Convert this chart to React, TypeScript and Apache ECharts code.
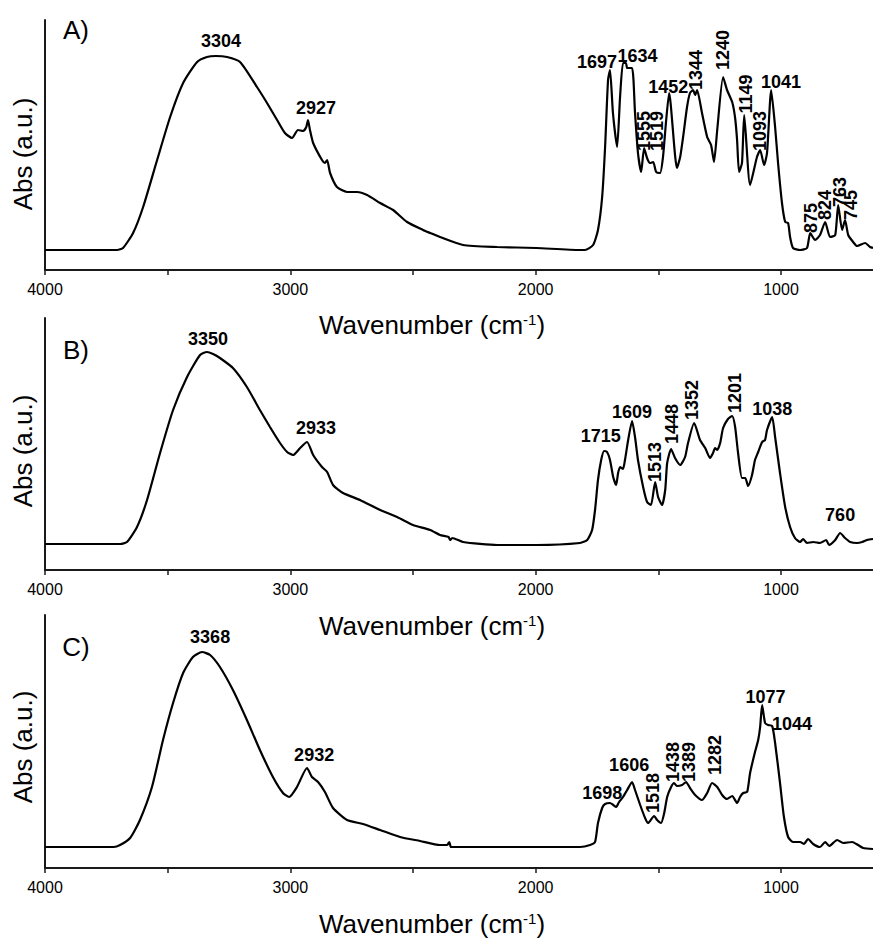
import React, { useEffect, useRef } from "react";
import * as echarts from "echarts";

// Wavenumber axis (cm-1), drawn high -> low
const X_MIN = 625;
const X_MAX = 4000;
const MAJOR_TICKS = [4000, 3000, 2000, 1000];
const ALL_TICKS = [4000, 3500, 3000, 2500, 2000, 1500, 1000];

// Spectrum A: [wavenumber, absorbance (a.u.)]
const specA: number[][] = [
  [4000, 20], [3850, 20], [3720, 20], [3706, 20], [3682, 22], [3641, 37], [3600, 63], [3543, 110],
  [3490, 153], [3437, 187], [3380, 208], [3340, 213], [3304, 214], [3258, 213], [3205, 208],
  [3136, 183], [3095, 167], [3054, 150], [3022, 137], [2993, 132], [2969, 140], [2948, 139],
  [2935, 143], [2928, 150], [2920, 140], [2907, 127], [2871, 110], [2859, 107], [2850, 110],
  [2838, 97], [2810, 83], [2769, 78], [2728, 78], [2687, 75], [2634, 67], [2581, 60], [2524, 48],
  [2459, 40], [2430, 37], [2390, 33], [2296, 25], [2157, 23], [1998, 22], [1819, 20], [1799, 20],
  [1766, 25], [1746, 40], [1729, 73], [1717, 123], [1705, 190], [1697, 200], [1685, 157],
  [1668, 123], [1656, 173], [1644, 207], [1632, 207], [1627, 202], [1607, 202], [1595, 157],
  [1583, 117], [1570, 98], [1558, 122], [1546, 112], [1534, 107], [1521, 108], [1509, 98],
  [1493, 97], [1481, 113], [1468, 150], [1456, 177], [1424, 102], [1411, 113], [1399, 133],
  [1383, 163], [1371, 177], [1358, 180], [1350, 175], [1342, 180], [1322, 157], [1301, 133],
  [1285, 125], [1273, 108], [1260, 140], [1236, 193], [1220, 180], [1199, 168], [1187, 152],
  [1179, 130], [1171, 98], [1159, 107], [1150, 155], [1126, 85], [1098, 113], [1085, 120],
  [1069, 105], [1057, 117], [1040, 180], [1024, 143], [1012, 107], [996, 67], [983, 48],
  [971, 47], [963, 33], [951, 22], [922, 20], [894, 22], [881, 37], [861, 30], [841, 35],
  [820, 48], [800, 33], [779, 35], [767, 65], [751, 40], [739, 50], [726, 35], [706, 28],
  [690, 24], [657, 27], [637, 23], [625, 22],
];

// Spectrum B
const specB: number[][] = [
  [4000, 26], [3720, 26], [3694, 26], [3666, 28], [3625, 43], [3584, 70], [3531, 117], [3478, 160],
  [3421, 193], [3368, 215], [3340, 218], [3315, 216], [3287, 212], [3234, 202], [3177, 183],
  [3124, 160], [3083, 143], [3042, 127], [3013, 118], [2989, 115], [2960, 122], [2932, 128],
  [2907, 115], [2871, 103], [2850, 98], [2826, 85], [2785, 77], [2716, 70], [2634, 60],
  [2565, 53], [2500, 45], [2430, 40], [2390, 35], [2355, 33], [2349, 30], [2340, 32], [2296, 28],
  [2157, 25], [1994, 25], [1819, 27], [1790, 30], [1770, 40], [1758, 60], [1746, 90],
  [1733, 110], [1721, 119], [1709, 118], [1697, 110], [1684, 93], [1672, 85], [1664, 97],
  [1656, 103], [1644, 101], [1636, 110], [1623, 130], [1607, 149], [1595, 133], [1583, 110],
  [1562, 83], [1546, 68], [1530, 65], [1513, 88], [1501, 73], [1485, 65], [1472, 80],
  [1464, 107], [1448, 121], [1432, 112], [1411, 105], [1391, 113], [1379, 127], [1354, 147],
  [1330, 130], [1309, 122], [1289, 112], [1277, 117], [1269, 122], [1260, 120], [1248, 127],
  [1236, 142], [1216, 151], [1199, 154], [1187, 143], [1175, 117], [1159, 92], [1146, 92],
  [1134, 84], [1118, 95], [1106, 110], [1093, 118], [1077, 128], [1065, 130], [1057, 140],
  [1036, 153], [1024, 133], [1004, 97], [983, 63], [963, 43], [943, 32], [922, 28], [910, 31],
  [894, 27], [869, 28], [841, 27], [816, 30], [804, 25], [779, 30], [759, 37], [739, 32],
  [718, 28], [690, 27], [669, 28], [649, 30], [625, 31],
];

// Spectrum C
const specC: number[][] = [
  [4000, 21], [3720, 21], [3694, 23], [3653, 30], [3613, 48], [3564, 81], [3519, 128], [3478, 165],
  [3437, 195], [3397, 211], [3360, 216], [3327, 213], [3287, 201], [3234, 178], [3177, 148],
  [3124, 118], [3071, 91], [3030, 75], [3005, 71], [2973, 81], [2932, 100], [2912, 91],
  [2887, 86], [2859, 76], [2826, 60], [2769, 48], [2704, 44], [2634, 38], [2553, 31],
  [2471, 27], [2390, 23], [2361, 23], [2352, 26], [2345, 21], [2296, 21], [2157, 21],
  [1998, 21], [1819, 21], [1778, 23], [1758, 26], [1746, 45], [1729, 60], [1717, 64],
  [1697, 65], [1684, 63], [1672, 61], [1660, 66], [1644, 71], [1627, 78], [1607, 86],
  [1595, 78], [1574, 63], [1554, 50], [1542, 45], [1517, 52], [1505, 48], [1489, 45],
  [1476, 55], [1464, 71], [1448, 81], [1436, 85], [1424, 82], [1403, 83], [1387, 86],
  [1371, 80], [1350, 73], [1322, 68], [1301, 75], [1281, 85], [1260, 81], [1240, 73],
  [1220, 69], [1199, 72], [1179, 65], [1167, 71], [1154, 75], [1138, 76], [1126, 95],
  [1106, 116], [1093, 128], [1085, 141], [1077, 163], [1065, 145], [1053, 143], [1036, 142],
  [1024, 125], [1004, 85], [988, 51], [971, 31], [951, 26], [922, 26], [906, 24], [890, 29],
  [869, 24], [841, 21], [820, 26], [804, 22], [771, 28], [747, 25], [710, 26], [686, 23],
  [665, 20], [625, 19],
];

// Peak labels: text, wavenumber and absorbance of the label centre, rotation (deg)
const labelsA = [
  { t: "3304", w: 3283, v: 229, r: 0 }, { t: "2927", w: 2895, v: 162, r: 0 },
  { t: "1697", w: 1750, v: 208, r: 0 }, { t: "1634", w: 1585, v: 214, r: 0 },
  { t: "1555", w: 1560, v: 139, r: 90 }, { t: "1519", w: 1505, v: 139, r: 90 },
  { t: "1452", w: 1460, v: 183, r: 0 }, { t: "1344", w: 1346, v: 200, r: 90 },
  { t: "1240", w: 1238, v: 220, r: 90 }, { t: "1149", w: 1142, v: 176, r: 90 },
  { t: "1093", w: 1085, v: 139, r: 90 }, { t: "1041", w: 1000, v: 188, r: 0 },
  { t: "875", w: 879, v: 52, r: 90 }, { t: "824", w: 820, v: 65, r: 90 },
  { t: "763", w: 759, v: 78, r: 90 }, { t: "745", w: 716, v: 65, r: 90 },
];
const labelsB = [
  { t: "3350", w: 3336, v: 231, r: 0 }, { t: "2933", w: 2895, v: 142, r: 0 },
  { t: "1715", w: 1735, v: 134, r: 0 }, { t: "1609", w: 1607, v: 158, r: 0 },
  { t: "1513", w: 1513, v: 108, r: 90 }, { t: "1448", w: 1446, v: 146, r: 90 },
  { t: "1352", w: 1364, v: 170, r: 90 }, { t: "1201", w: 1187, v: 177, r: 90 },
  { t: "1038", w: 1036, v: 161, r: 0 }, { t: "760", w: 759, v: 55, r: 0 },
];
const labelsC = [
  { t: "3368", w: 3327, v: 231, r: 0 }, { t: "2932", w: 2903, v: 113, r: 0 },
  { t: "1698", w: 1729, v: 75, r: 0 }, { t: "1606", w: 1619, v: 103, r: 0 },
  { t: "1518", w: 1521, v: 75, r: 90 }, { t: "1438", w: 1440, v: 106, r: 90 },
  { t: "1389", w: 1373, v: 106, r: 90 }, { t: "1282", w: 1267, v: 113, r: 90 },
  { t: "1077", w: 1063, v: 171, r: 0 }, { t: "1044", w: 955, v: 144, r: 0 },
];

const PANEL_NAMES = ["A)", "B)", "C)"];
const X_TITLE = "Wavenumber (cm";
const Y_TITLE = "Abs (a.u.)";

const FONT = "'Liberation Sans', Arial, Helvetica, sans-serif";
const INK = "#000";
const AXIS = "#1a1a1a";

const PANELS = [
  { top: 20, height: 250, spec: specA, labels: labelsA, letterY: 30, yTitleY: 154, xTitleY: 325 },
  { top: 318, height: 252, spec: specB, labels: labelsB, letterY: 350, yTitleY: 451, xTitleY: 626 },
  { top: 615, height: 253, spec: specC, labels: labelsC, letterY: 647, yTitleY: 747, xTitleY: 924 },
];

export default function App() {
  const ref = useRef<HTMLDivElement>(null);
  useEffect(() => {
    if (!ref.current) return;
    const chart = echarts.init(ref.current, undefined, { renderer: "svg" });
    const grid: any[] = [];
    const xAxis: any[] = [];
    const yAxis: any[] = [];
    const series: any[] = [];
    const graphic: any[] = [];
    PANELS.forEach((p, i) => {
      grid.push({ left: 45, top: p.top, width: 828, height: p.height, containLabel: false });
      xAxis.push({
        gridIndex: i,
        type: "value",
        inverse: true,
        min: X_MIN,
        max: X_MAX,
        axisLine: { show: true, onZero: false, lineStyle: { color: AXIS, width: 2 } },
        axisTick: { show: true, length: 5, customValues: ALL_TICKS, lineStyle: { color: AXIS, width: 1.5 } },
        axisLabel: {
          show: true,
          customValues: MAJOR_TICKS,
          formatter: (v: number) => String(v),
          fontSize: 16,
          color: INK,
          fontFamily: FONT,
          margin: 11,
        },
        splitLine: { show: false },
      });
      yAxis.push({
        gridIndex: i,
        type: "value",
        min: 0,
        max: p.height,
        axisLine: { show: true, onZero: false, lineStyle: { color: AXIS, width: 2 } },
        axisTick: { show: false },
        axisLabel: { show: false },
        splitLine: { show: false },
      });
      series.push({
        type: "line",
        xAxisIndex: i,
        yAxisIndex: i,
        data: p.spec,
        showSymbol: false,
        symbol: "none",
        smooth: 0.2,
        silent: true,
        lineStyle: { color: INK, width: 2.2 },
      });
      series.push({
        type: "scatter",
        xAxisIndex: i,
        yAxisIndex: i,
        symbolSize: 1,
        silent: true,
        itemStyle: { color: "transparent", opacity: 1 },
        data: p.labels.map((l) => ({
          name: l.t,
          value: [l.w, l.v],
          label: { rotate: l.r },
        })),
        label: {
          show: true,
          position: "inside",
          formatter: "{b}",
          fontSize: 18,
          fontWeight: "bold",
          color: INK,
          opacity: 1,
          textBorderWidth: 0,
          fontFamily: FONT,
          align: "center",
          verticalAlign: "middle",
        },
      });
      graphic.push({
        type: "text",
        x: 76,
        y: p.letterY,
        style: { text: PANEL_NAMES[i], fontSize: 26, fontFamily: FONT, fill: INK, align: "center", verticalAlign: "middle" },
      });
      graphic.push({
        type: "text",
        x: 23,
        y: p.yTitleY,
        rotation: Math.PI / 2,
        style: { text: Y_TITLE, fontSize: 26, fontFamily: FONT, fill: INK, align: "center", verticalAlign: "middle" },
      });
      graphic.push({
        type: "text",
        x: 432,
        y: p.xTitleY,
        style: {
          text: "{m|" + X_TITLE + "}{s|-1}{m|)}",
          fontFamily: FONT,
          fill: INK,
          align: "center",
          verticalAlign: "middle",
          rich: {
            m: { fontSize: 26, fontFamily: FONT, fill: INK, lineHeight: 26, verticalAlign: "middle" },
            s: { fontSize: 15, fontFamily: FONT, fill: INK, lineHeight: 26, verticalAlign: "top" },
          },
        },
      });
    });
    chart.setOption({
      animation: false,
      backgroundColor: "#fff",
      grid,
      xAxis,
      yAxis,
      series,
      graphic,
    });
    return () => chart.dispose();
  }, []);
  return (
    <div
      ref={ref}
      style={{ position: "absolute", left: 0, top: 0, width: 873, height: 938, background: "#fff" }}
    />
  );
}
